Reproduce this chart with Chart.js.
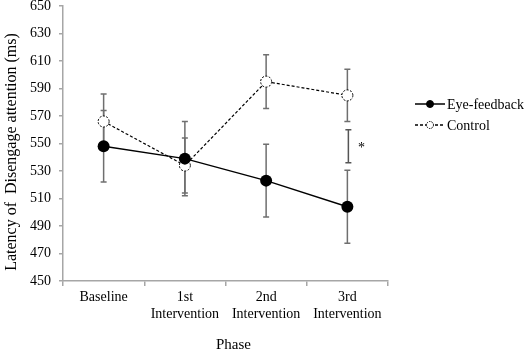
<!DOCTYPE html>
<html>
<head>
<meta charset="utf-8">
<title>Latency of Disengage attention</title>
<script src="https://cdn.jsdelivr.net/npm/chart.js@4/dist/chart.umd.min.js"></script>
<style>
    html, body { margin: 0; padding: 0; background: #fff; }
    #wrap { position: relative; width: 526px; height: 352px; }
</style>
</head>
<body>
<div id="wrap"><canvas id="latencyChart" width="526" height="352"></canvas></div>
<script>
//-- Data --
const phaseLabels = [['Baseline'], ['1st', 'Intervention'], ['2nd', 'Intervention'], ['3rd', 'Intervention']];
const eyeMean = [548, 539, 523, 504];
const eyeErr = [26, 27, 26.5, 26.5];
const ctrlMean = [566, 534, 595, 585];
const ctrlErr = [20, 20, 19.5, 19];
//-- Significance bracket at 3rd Intervention: [category index, low, high] --
const sigBracket = [3, 536, 560];
const yTicks = [450, 470, 490, 510, 530, 550, 570, 590, 610, 630, 650];

const FONT = "'Liberation Serif', 'Times New Roman', serif";
const AXIS_GREY = '#a6a6a6';
const ERR_GREY = '#6f6f6f';

//-- Error bars drawn behind the markers --
const errorBarPlugin = {
    id: 'errorBars',
    beforeDatasetsDraw(chart) {
        const ctx = chart.ctx;
        const y = chart.scales.y;
        const errs = [eyeErr, ctrlErr];
        ctx.save();
        ctx.strokeStyle = ERR_GREY;
        ctx.lineWidth = 1.5;
        chart.data.datasets.forEach((ds, di) => {
            const meta = chart.getDatasetMeta(di);
            meta.data.forEach((pt, i) => {
                const top = y.getPixelForValue(ds.data[i] + errs[di][i]);
                const bot = y.getPixelForValue(ds.data[i] - errs[di][i]);
                ctx.beginPath();
                ctx.moveTo(pt.x, top); ctx.lineTo(pt.x, bot);
                ctx.moveTo(pt.x - 3, top); ctx.lineTo(pt.x + 3, top);
                ctx.moveTo(pt.x - 3, bot); ctx.lineTo(pt.x + 3, bot);
                ctx.stroke();
            });
        });
        //-- bracket for the significant difference --
        const bx = chart.getDatasetMeta(0).data[sigBracket[0]].x + 1;
        const b1 = y.getPixelForValue(sigBracket[1]);
        const b2 = y.getPixelForValue(sigBracket[2]);
        ctx.strokeStyle = '#555';
        ctx.beginPath();
        ctx.moveTo(bx, b1); ctx.lineTo(bx, b2);
        ctx.moveTo(bx - 3, b1); ctx.lineTo(bx + 3, b1);
        ctx.moveTo(bx - 3, b2); ctx.lineTo(bx + 3, b2);
        ctx.stroke();
        ctx.fillStyle = '#000';
        ctx.font = '14px ' + FONT;
        ctx.textAlign = 'center';
        ctx.textBaseline = 'middle';
        ctx.fillText('*', bx + 13, (b1 + b2) / 2 + 2);
        ctx.restore();
    },
    //-- dashed outline for the open Control markers --
    afterDatasetsDraw(chart) {
        const ctx = chart.ctx;
        ctx.save();
        ctx.strokeStyle = '#000';
        ctx.lineWidth = 1;
        ctx.setLineDash([2, 1.5]);
        chart.getDatasetMeta(1).data.forEach(pt => {
            ctx.beginPath();
            ctx.arc(pt.x, pt.y, 5.5, 0, Math.PI * 2);
            ctx.stroke();
        });
        ctx.restore();
    }
};

//-- Axis titles and legend drawn by hand --
const annotationPlugin = {
    id: 'annotations',
    afterDraw(chart) {
        const ctx = chart.ctx;
        const area = chart.chartArea;
        ctx.save();
        ctx.fillStyle = '#000';
        ctx.font = '15px ' + FONT;
        ctx.textAlign = 'center';
        ctx.textBaseline = 'middle';
        ctx.fillText('Phase', area.left + (area.right - area.left) / 2 + 8, 345);

        ctx.save();
        ctx.font = '16px ' + FONT;
        ctx.translate(12, 152);
        ctx.rotate(-Math.PI / 2);
        ctx.fillText('Latency of  Disengage attention (ms)', 0, 0);
        ctx.restore();

        //-- legend --
        const lx = area.right + 27;
        const rows = [
            { label: 'Eye-feedback', y: 104, dash: [], fill: '#000' },
            { label: 'Control', y: 125, dash: [3, 2], fill: '#fff' }
        ];
        ctx.font = '14px ' + FONT;
        ctx.textAlign = 'left';
        rows.forEach(r => {
            ctx.strokeStyle = '#000';
            ctx.lineWidth = 1.5;
            ctx.setLineDash(r.dash);
            ctx.beginPath();
            ctx.moveTo(lx, r.y); ctx.lineTo(lx + 30, r.y);
            ctx.stroke();
            ctx.setLineDash(r.dash.length ? [1.5, 1] : []);
            ctx.lineWidth = 1;
            ctx.fillStyle = r.fill;
            ctx.beginPath();
            ctx.arc(lx + 15, r.y, 3.5, 0, Math.PI * 2);
            ctx.fill();
            ctx.stroke();
            ctx.setLineDash([]);
            ctx.fillStyle = '#000';
            ctx.fillText(r.label, lx + 32, r.y + 1);
        });
        ctx.restore();
    }
};

new Chart(document.getElementById('latencyChart').getContext('2d'), {
    type: 'line',
    data: {
        labels: phaseLabels,
        datasets: [
            {
                label: 'Eye-feedback',
                data: eyeMean,
                borderColor: '#000',
                borderWidth: 1.4,
                pointRadius: 6,
                pointBackgroundColor: '#000',
                pointBorderColor: '#000',
                pointBorderWidth: 0,
                tension: 0
            },
            {
                label: 'Control',
                data: ctrlMean,
                borderColor: '#000',
                borderWidth: 1.2,
                borderDash: [3, 2],
                pointRadius: 5.5,
                pointBackgroundColor: '#fff',
                pointBorderWidth: 0,
                tension: 0
            }
        ]
    },
    options: {
        responsive: false,
        animation: false,
        layout: { padding: { left: 0, top: 6, right: 138, bottom: 0 } },
        plugins: {
            legend: { display: false },
            tooltip: { enabled: false }
        },
        scales: {
            x: {
                offset: true,
                grid: {
                    offset: true,
                    drawOnChartArea: false,
                    color: AXIS_GREY,
                    tickLength: 5,
                    lineWidth: 1.5
                },
                border: { color: AXIS_GREY, width: 1.5 },
                ticks: {
                    color: '#000',
                    font: { family: FONT, size: 14, lineHeight: 1.2 },
                    padding: 3,
                    maxRotation: 0,
                    autoSkip: false
                },
                afterFit: scale => { scale.height = 71; }
            },
            y: {
                min: 450,
                max: 650,
                afterBuildTicks: scale => { scale.ticks = yTicks.map(v => ({ value: v })); },
                grid: {
                    drawOnChartArea: false,
                    color: AXIS_GREY,
                    tickLength: 4,
                    lineWidth: 1.5
                },
                border: { color: AXIS_GREY, width: 1.5 },
                ticks: {
                    color: '#000',
                    font: { family: FONT, size: 14 },
                    padding: 8
                },
                afterFit: scale => {
                    scale.width = 63;
                    scale.paddingTop = 0;
                    scale.paddingBottom = 0;
                }
            }
        }
    },
    plugins: [errorBarPlugin, annotationPlugin]
});
</script>
</body>
</html>
